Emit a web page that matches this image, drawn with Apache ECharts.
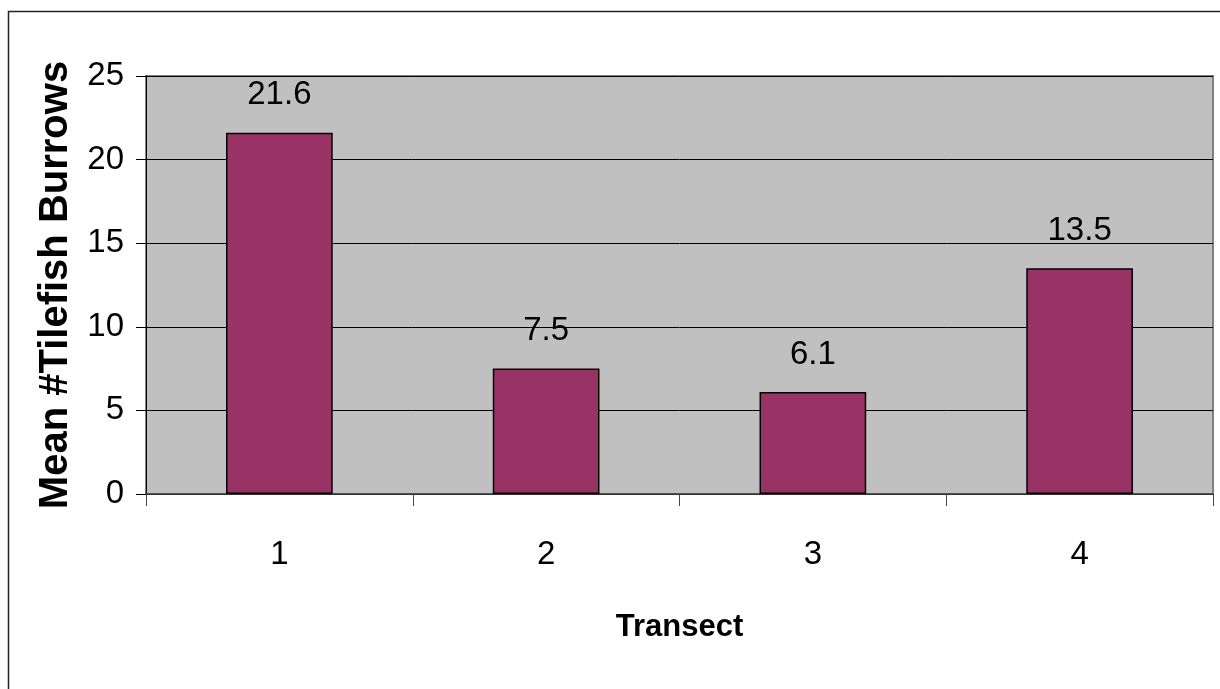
<!DOCTYPE html>
<html>
<head>
<meta charset="utf-8">
<script src="https://cdn.jsdelivr.net/npm/echarts@6/dist/echarts.min.js"></script>
<style>
html,body{margin:0;padding:0;background:#fff;overflow:hidden;}
#chart{width:1220px;height:689px;}
</style>
</head>
<body>
<div id="chart"></div>
<script>
const categories = ['1', '2', '3', '4'];
const values = [21.6, 7.5, 6.1, 13.5];
const yTicks = [0, 5, 10, 15, 20, 25];
const xTitle = 'Transect';
const yTitle = 'Mean #Tilefish Burrows';

const sans = '"Liberation Sans", Arial, sans-serif';
const chart = echarts.init(document.getElementById('chart'));
chart.setOption({
  animation: false,
  backgroundColor: '#fff',
  graphic: [{
    type: 'rect', z: 100, silent: true,
    shape: { x: 8.5, y: 11.5, width: 1400, height: 900 },
    style: { fill: 'none', stroke: '#222', lineWidth: 1.5 }
  }],
  grid: {
    left: 146, top: 76, right: 7, bottom: 195,
    show: true, backgroundColor: '#C0C0C0', borderColor: '#808080', borderWidth: 2
  },
  xAxis: {
    type: 'category', data: categories,
    name: xTitle, nameLocation: 'middle', nameGap: 118,
    nameTextStyle: { fontFamily: sans, fontWeight: 'bold', fontSize: 31, color: '#000' },
    axisLine: { show: true, lineStyle: { color: '#444', width: 1.5 } },
    axisTick: { show: true, alignWithLabel: false, length: 12, lineStyle: { color: '#444', width: 1 } },
    axisLabel: { fontFamily: sans, fontSize: 33, color: '#000', margin: 44 },
    splitLine: { show: false }
  },
  yAxis: {
    type: 'value', min: yTicks[0], max: yTicks[yTicks.length - 1], interval: 5,
    name: yTitle, nameLocation: 'middle', nameGap: 70, nameRotate: 90,
    nameTextStyle: { fontFamily: sans, fontWeight: 'bold', fontSize: 40, color: '#000' },
    axisLine: { show: true, lineStyle: { color: '#000', width: 1 } },
    axisTick: { show: true, inside: false, length: 10, lineStyle: { color: '#000', width: 1 } },
    axisLabel: { fontFamily: sans, fontSize: 33, color: '#000', margin: 22 },
    splitLine: { show: true, lineStyle: { color: '#000', width: 1 } }
  },
  series: [{
    type: 'bar', data: values, barWidth: '40%',
    itemStyle: { color: '#993366', borderColor: '#000', borderWidth: 1.5 },
    label: { show: true, position: 'top', distance: 21, fontFamily: sans, fontSize: 33, color: '#000' }
  }]
});
</script>
</body>
</html>
